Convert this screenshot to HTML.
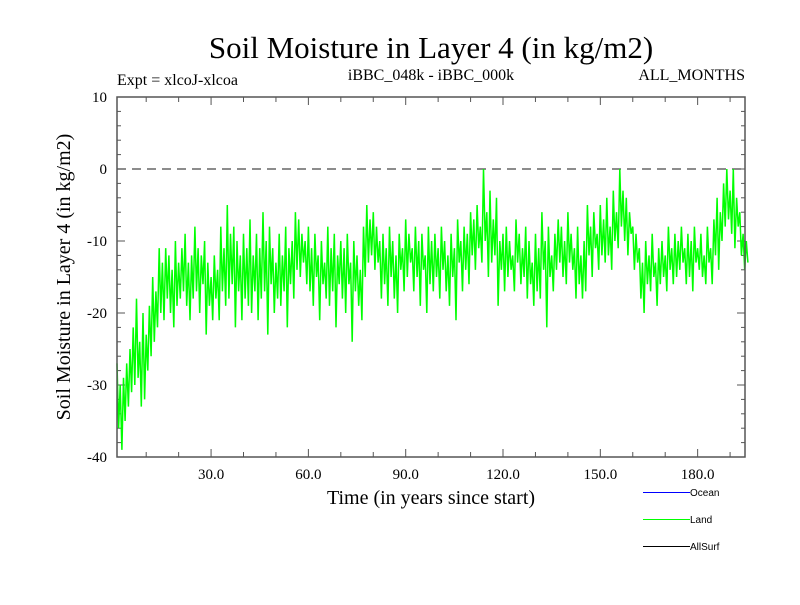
<!DOCTYPE html>
<html><head><meta charset="utf-8"><style>
body{margin:0;background:#fff}
svg{font-family:"Liberation Serif",serif}
</style></head><body>
<svg id="c" width="800" height="600" xmlns="http://www.w3.org/2000/svg">
<text x="431" y="58" font-size="31" text-anchor="middle">Soil Moisture in Layer 4 (in kg/m2)</text>
<text x="117" y="85" font-size="16">Expt = xlcoJ-xlcoa</text>
<text x="431" y="80" font-size="16" text-anchor="middle">iBBC_048k - iBBC_000k</text>
<text x="745" y="80" font-size="16" text-anchor="end">ALL_MONTHS</text>
<text transform="translate(70,277) rotate(-90)" font-size="20" text-anchor="middle">Soil Moisture in Layer 4 (in kg/m2)</text>
<text x="431" y="504" font-size="20" text-anchor="middle">Time (in years since start)</text>
<g id="axes"></g>
<g id="series"></g>
<rect x="117" y="97" width="628" height="360" fill="none" stroke="#555" stroke-width="1.5"/>
<g font-family="Liberation Sans,sans-serif" font-size="10" shape-rendering="crispEdges">
<line x1="643" y1="492.5" x2="690" y2="492.5" stroke="#0000ff"/>
<text x="690" y="496">Ocean</text>
<line x1="643" y1="519.5" x2="690" y2="519.5" stroke="#00ff00"/>
<text x="690" y="523">Land</text>
<line x1="643" y1="546.5" x2="690" y2="546.5" stroke="#000"/>
<text x="690" y="550">AllSurf</text>
</g>
</svg>
<script>
const startYear = 1;
const stepYears = 0.5;
const landValues = [
-27,-36,-30,-39,-29,-35,-27,-33,-25,-31,-22,-30,-18,-29,-24,-33,-20,-32,-23,-28,
-19,-26,-15,-24,-17,-22,-11,-20,-13,-21,-11,-18,-12,-20,-14,-22,-10,-19,-13,-18,
-11,-17,-9,-19,-13,-21,-12,-18,-8,-17,-11,-20,-12,-16,-10,-23,-13,-19,-15,-21,
-12,-18,-14,-21,-8,-17,-11,-19,-5,-18,-9,-16,-8,-22,-10,-17,-12,-21,-9,-18,
-11,-19,-7,-20,-12,-17,-9,-21,-11,-18,-6,-17,-10,-23,-8,-16,-11,-20,-13,-18,
-9,-19,-12,-17,-8,-22,-11,-16,-10,-18,-6,-14,-7,-15,-9,-13,-10,-16,-8,-17,
-11,-19,-9,-15,-12,-21,-10,-16,-13,-18,-8,-19,-11,-17,-9,-22,-12,-16,-10,-18,
-11,-20,-9,-16,-13,-24,-10,-17,-12,-19,-14,-21,-8,-15,-5,-13,-7,-12,-6,-14,
-8,-13,-10,-18,-9,-16,-11,-19,-8,-15,-10,-18,-12,-20,-9,-14,-11,-17,-7,-15,
-9,-13,-11,-17,-8,-15,-10,-19,-9,-14,-12,-20,-8,-16,-10,-17,-9,-15,-11,-18,
-8,-14,-10,-17,-12,-19,-9,-15,-11,-21,-7,-13,-10,-17,-8,-14,-9,-16,-6,-12,
-7,-14,-5,-11,-8,-13,0,-10,-6,-15,-3,-13,-7,-12,-4,-19,-10,-14,-9,-17,
-8,-15,-10,-14,-12,-17,-7,-13,-9,-16,-11,-15,-8,-18,-10,-16,-13,-19,-9,-17,
-11,-18,-6,-14,-10,-22,-8,-15,-12,-17,-9,-14,-7,-13,-8,-15,-10,-16,-6,-13,
-9,-14,-11,-18,-8,-16,-12,-18,-10,-17,-5,-12,-8,-15,-6,-11,-9,-14,-5,-12,
-7,-13,-4,-12,-8,-14,-3,-10,-6,-11,0,-8,-3,-10,-4,-12,-6,-9,-8,-14,
-9,-13,-11,-18,-13,-20,-10,-16,-12,-17,-9,-15,-13,-19,-11,-16,-10,-15,-12,-17,
-8,-14,-11,-16,-9,-15,-10,-14,-8,-13,-11,-16,-9,-15,-10,-17,-8,-13,-11,-14,
-9,-15,-12,-16,-8,-13,-11,-16,-7,-12,-4,-14,-6,-10,-2,-8,0,-7,-3,-9,
0,-11,-4,-8,-6,-12,-9,-14,-10,-13
];
const xTicks = [30, 60, 90, 120, 150, 180];
const xTickLabels = ["30.0", "60.0", "90.0", "120.0", "150.0", "180.0"];
const yTicks = [10, 0, -10, -20, -30, -40];
const yTickLabels = ["10", "0", "-10", "-20", "-30", "-40"];

const X0=117,X1=745,Y0=97,Y1=457,XMIN=1,XMAX=194.6,YMIN=-40,YMAX=10;
const sx=v=>X0+(v-XMIN)/(XMAX-XMIN)*(X1-X0);
const sy=v=>Y1-(v-YMIN)/(YMAX-YMIN)*(Y1-Y0);
const NS="http://www.w3.org/2000/svg";
const ax=document.getElementById('axes'), se=document.getElementById('series');
function mk(tag,attrs,parent){const e=document.createElementNS(NS,tag);for(const k in attrs)e.setAttribute(k,attrs[k]);parent.appendChild(e);return e;}
for(let t=10;t<=190;t+=10){
  const major=t%30===0, len=major?8:5;
  const a=mk('line',{x1:sx(t),x2:sx(t),y1:Y1,y2:Y1-len,stroke:'#555'},ax);
  
  
  const b=mk('line',{x1:sx(t),x2:sx(t),y1:Y0,y2:Y0+len,stroke:'#555'},ax);
  
  
}
xTicks.forEach((t,i)=>{
  const tx=mk('text',{x:sx(t),y:Y1+22,'font-size':15,'text-anchor':'middle'},ax);
  tx.textContent=xTickLabels[i];
  
  
});
for(let v=-38;v<10;v+=2){
  const major=v%10===0, len=major?8:4;
  const a=mk('line',{x1:X0,x2:X0+len,y1:sy(v),y2:sy(v),stroke:'#555'},ax);
  
  
  const b=mk('line',{x1:X1,x2:X1-len,y1:sy(v),y2:sy(v),stroke:'#555'},ax);
  
  
}
yTicks.forEach((t,i)=>{
  const tx=mk('text',{x:X0-10,y:sy(t)+5,'font-size':15,'text-anchor':'end'},ax);
  tx.textContent=yTickLabels[i];
  
  
});
const zl=mk('line',{x1:X0,x2:X1,y1:sy(0),y2:sy(0),stroke:'#666','stroke-width':1.5,'stroke-dasharray':'9,6'},ax);


const pts=landValues.map((v,i)=>sx(startYear+i*stepYears).toFixed(1)+','+sy(v).toFixed(1)).join(' ');
const pl=mk('polyline',{points:pts,fill:'none',stroke:'#00ff00','stroke-width':1.5},se);


</script>
</body></html>
